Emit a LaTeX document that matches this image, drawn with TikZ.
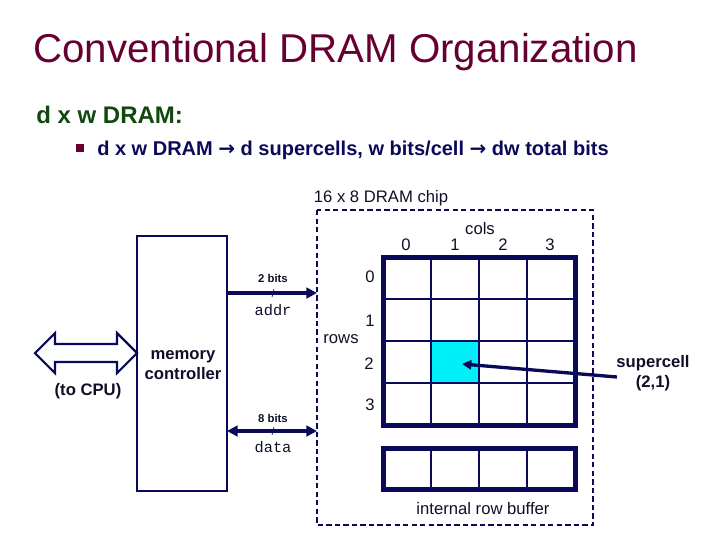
\documentclass[tikz,border=0pt]{standalone}
\usepackage{fontspec}
\setmainfont{Liberation Sans}
\setmonofont{Liberation Mono}
\newfontfamily\arrowfont{DejaVu Sans}
\usetikzlibrary{arrows.meta}
\definecolor{titlered}{RGB}{102,0,51}
\definecolor{subgreen}{RGB}{16,72,16}
\definecolor{navy}{RGB}{10,10,90}
\definecolor{ink}{RGB}{15,15,40}
\definecolor{cellcyan}{RGB}{0,240,250}
\newcommand{\bigarr}{{\arrowfont\bfseries →}}
\begin{document}
\begin{tikzpicture}[x=0.75pt,y=-0.75pt,
  lbl/.style={inner sep=0pt, text=ink, font=\fontsize{12.5}{14}\selectfont},
  bits/.style={inner sep=0pt, text=ink, font=\fontsize{8.5}{10}\selectfont\bfseries},
  code/.style={inner sep=0pt, text=ink, font=\fontsize{11.5}{13}\selectfont\ttfamily},
  thinline/.style={draw=navy, line width=1.5pt},
  thickline/.style={draw=navy, line width=3.75pt},
  bus/.style={draw=navy, line width=3pt, -{Triangle[length=8pt,width=8pt]}},
  busboth/.style={draw=navy, line width=3pt, {Triangle[length=8pt,width=8pt]}-{Triangle[length=8pt,width=8pt]}},
]
\useasboundingbox (0,0) rectangle (720,540);
% titles
\node[anchor=base west, inner sep=0pt, text=titlered, font=\fontsize{30.2}{34}\selectfont] (title) at (33,62) {Conventional DRAM Organization};
\node[anchor=base west, inner sep=0pt, text=subgreen, font=\fontsize{18}{22}\selectfont\bfseries] (sub) at (36,123) {d x w DRAM:};
\fill[titlered] (76,144) rectangle (84,152);
\node[anchor=base west, inner sep=0pt, text=navy, font=\fontsize{15}{18}\selectfont\bfseries] (bullet) at (97,155) {d x w DRAM \bigarr{} d supercells, w bits/cell \bigarr{} dw total bits};

% chip dashed outline
\draw[navy, line width=1.5pt, dash pattern=on 4pt off 2.4pt] (317,210) rectangle (593,525);
\coordinate (chipW) at (317,293);
\coordinate (chipWd) at (317,431);
\node[lbl, anchor=center] (chiplbl) at (381,198) {16 x 8 DRAM chip};

% supercell fill
\fill[cellcyan] (431,341) rectangle (479,383);
% grid
\foreach \x in {431,479,527} \draw[thinline] (\x,257) -- (\x,425);
\foreach \y in {299,341,383} \draw[thinline] (383,\y) -- (575,\y);
\draw[thickline] (383,257) rectangle (575,425);
% row buffer
\foreach \x in {431,479,527} \draw[thinline] (\x,448) -- (\x,489);
\draw[thickline] (383,448) rectangle (575,489);
\node[lbl, anchor=center] (rbuf) at (483,509) {internal row buffer};

% labels
\node[lbl] (cols) at (480,229) {cols};
\node[lbl] (c0) at (406,245) {0};
\node[lbl] (c1) at (455,245) {1};
\node[lbl] (c2) at (503,245) {2};
\node[lbl] (c3) at (550,245) {3};
\node[lbl] (r0) at (370,277) {0};
\node[lbl] (r1) at (370,321) {1};
\node[lbl] (r2) at (369,364) {2};
\node[lbl] (r3) at (370,405) {3};
\node[lbl] (rows) at (341,339) {rows};

% memory controller
\draw[thinline] (137,236) rectangle (227,491);
\coordinate (mcE) at (227,293);
\coordinate (mcEd) at (227,431);
\node[lbl, align=center, font=\fontsize{12.5}{14.5}\selectfont\bfseries] (mclbl) at (183,365) {memory\\controller};

% CPU double arrow
\draw[navy, line width=1.6pt, line join=miter] (35,353) -- (55,333) -- (55,344) -- (117,344) -- (117,333) -- (137,353) -- (117,373) -- (117,362) -- (55,362) -- (55,373) -- cycle;
\node[lbl, font=\fontsize{12.5}{14}\selectfont\bfseries] (cpu) at (88,391) {(to CPU)};

% addr bus
\draw[bus] (mcE) -- (chipW);
\draw[navy, line width=0.5pt] (272,297) -- (274,289);
\node[bits] (b2) at (273,278) {2 bits};
\node[code] (addr) at (273,310) {addr};
% data bus
\draw[busboth] (mcEd) -- (chipWd);
\draw[navy, line width=0.5pt] (272,435) -- (274,427);
\node[bits] (b8) at (273,418) {8 bits};
\node[code] (data) at (273,447) {data};

% supercell label
\node[lbl, align=center, font=\fontsize{12.5}{15}\selectfont\bfseries] (sc) at (653,373) {supercell\\(2,1)};
\coordinate (scS) at (617,377);
\coordinate (cell) at (462,364);
\draw[navy, line width=2.5pt, -{Triangle[length=7pt,width=7pt]}] (scS) -- (cell);
\end{tikzpicture}
\end{document}
